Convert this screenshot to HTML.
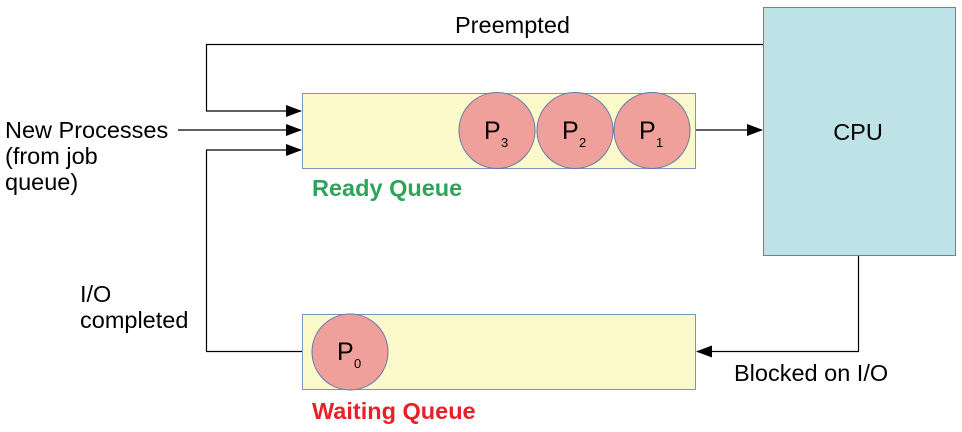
<!DOCTYPE html>
<html><head><meta charset="utf-8"><style>
html,body{margin:0;padding:0;background:#fff;}
svg{display:block;font-family:"Liberation Sans",sans-serif;}
</style></head><body>
<svg width="962" height="432" viewBox="0 0 962 432">
<defs>
<marker id="ah" markerWidth="16" markerHeight="12" refX="15" refY="6" orient="auto" markerUnits="userSpaceOnUse">
<path d="M0,0 L16,6 L0,12 Z" fill="#000"/>
</marker>
</defs>
<g>
<rect x="763.5" y="7.5" width="192" height="248" fill="#bee3e6" stroke="#5a86b5" stroke-width="1"/>
<text x="858" y="140" font-size="23.5" text-anchor="middle" fill="#000">CPU</text>
</g>
<g>
<rect x="302.5" y="93.5" width="393" height="75" fill="#fcfaca" stroke="#7a96c0" stroke-width="1"/>
<g>
<circle cx="497" cy="130.5" r="38" fill="#f0a09a" stroke="#5a78ab" stroke-width="1"/>
<text x="484" y="139" font-size="25">P</text><text x="501" y="147" font-size="13">3</text></g>
<g>
<circle cx="575" cy="130.5" r="38" fill="#f0a09a" stroke="#5a78ab" stroke-width="1"/>
<text x="562" y="139" font-size="25">P</text><text x="579" y="147" font-size="13">2</text></g>
<g>
<circle cx="652" cy="130.5" r="38" fill="#f0a09a" stroke="#5a78ab" stroke-width="1"/>
<text x="639" y="139" font-size="25">P</text><text x="656" y="147" font-size="13">1</text></g>
</g>
<text x="312" y="196" font-size="23.5" font-weight="bold" fill="#2ea35a">Ready Queue</text>
<g>
<rect x="302.5" y="314.5" width="393" height="75" fill="#fcfaca" stroke="#7a96c0" stroke-width="1"/>
<g>
<circle cx="350" cy="352" r="38" fill="#f0a09a" stroke="#5a78ab" stroke-width="1"/>
<text x="337" y="360" font-size="25">P</text><text x="354" y="368" font-size="13">0</text></g>
</g>
<text x="312" y="419" font-size="23.5" font-weight="bold" fill="#e8202a">Waiting Queue</text>
<g fill="none" stroke="#000" stroke-width="1.2">
<path d="M763,44.5 H206.5 V111 H301" marker-end="url(#ah)"/>
<path d="M178,130 H301" marker-end="url(#ah)"/>
<path d="M302,351.5 H206.5 V150 H301" marker-end="url(#ah)"/>
<path d="M696,130 H762" marker-end="url(#ah)"/>
<path d="M858.5,256 V351.5 H697" marker-end="url(#ah)"/>
</g>
<text x="455" y="33" font-size="23.5">Preempted</text>
<g font-size="23.5">
<text x="5" y="138">New Processes</text>
<text x="5" y="164">(from job</text>
<text x="5" y="190">queue)</text>
</g>
<g font-size="23.5">
<text x="80" y="302">I/O</text>
<text x="80" y="328">completed</text>
</g>
<text x="734" y="381" font-size="23.5">Blocked on I/O</text>
</svg>
</body></html>
